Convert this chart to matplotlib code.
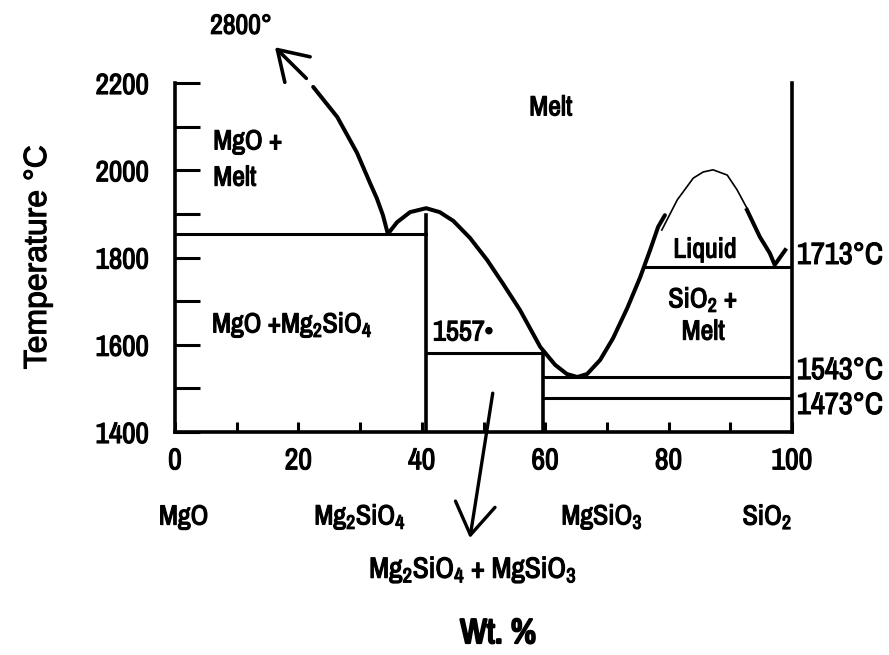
import matplotlib
matplotlib.use('Agg')
import matplotlib.pyplot as plt
from matplotlib import font_manager as fm
from matplotlib import patheffects as pe


def first_available(names, fallback):
    for n in names:
        try:
            fm.findfont(fm.FontProperties(family=n), fallback_to_default=False)
            return n
        except Exception:
            pass
    return fallback


NARROW = first_available(['Liberation Sans Narrow', 'Archivo Narrow', 'Pragati Narrow',
                          'Roboto Condensed'], 'Liberation Sans')
SANS = first_available(['Liberation Sans'], 'DejaVu Sans')

plt.rcParams['font.family'] = [NARROW, 'DejaVu Sans']
plt.rcParams['mathtext.fontset'] = 'custom'
plt.rcParams['mathtext.rm'] = NARROW
plt.rcParams['mathtext.it'] = NARROW
plt.rcParams['mathtext.bf'] = NARROW

HEAVY = [pe.withStroke(linewidth=0.85, foreground='black')]

# ---------------- data (wt.% SiO2, temperature as drawn) ----------------
x_major = [0, 20, 40, 60, 80, 100]
x_minor = [10, 30, 50, 70, 90]
y_major = [1400, 1600, 1800, 2000, 2200]
y_minor = [1500, 1700, 1900, 2100]

# MgO liquidus (towards 2800 deg)
liq_left_x = [22.4, 26.3, 29.5, 31.6, 32.7, 33.7, 34.5]
liq_left_t = [2191, 2122, 2040, 1971, 1936, 1897, 1854]

# forsterite hump -> eutectic -> silica side
main_x = [34.5, 36.0, 38.1, 40.7, 42.9, 45.1, 47.8, 50.6, 53.2, 55.9, 59.2,
          61.6, 63.5, 65.2, 66.8, 68.9, 71.0, 73.3, 75.4, 77.0, 78.3, 79.4]
main_t = [1854, 1881, 1904, 1913, 1904, 1884, 1845, 1794, 1739, 1680, 1595,
          1554, 1533, 1526, 1533, 1565, 1615, 1684, 1755, 1817, 1870, 1897]

# thin hand-drawn liquid immiscibility dome
thin_x = [78.9, 81.4, 84.0, 85.6, 87.2, 89.5, 91.1, 92.7, 94.8, 96.9, 97.2]
thin_t = [1863, 1932, 1982, 1996, 2001, 1989, 1955, 1913, 1847, 1794, 1785]

# thick right limb near SiO2
right_x = [92.7, 94.8, 96.4, 97.2, 98.9]
right_t = [1909, 1847, 1810, 1783, 1817]

# isotherms
iso_t = [1854, 1581, 1526, 1478, 1778]
iso_x0 = [0, 40.7, 59.6, 59.6, 76.3]
iso_x1 = [40.7, 59.6, 100, 100, 100]

# vertical compound lines
vert_x = [40.7, 59.6]
vert_top = [1897, 1581]

iso_labels = ['1713°C', '1543°C', '1473°C']
iso_label_t = [1806, 1542, 1462]

compounds = ['MgO', r'Mg$_2$SiO$_4$', r'MgSiO$_3$', r'SiO$_2$']
compound_x = [1.4, 30.0, 69.2, 96.0]

# ---------------- figure ----------------
fig = plt.figure(figsize=(8.89, 6.55), dpi=100)
ax = fig.add_axes([175 / 889, (655 - 432) / 655, 617 / 889, 349 / 655])
ax.set_xlim(0, 100)
ax.set_ylim(1400, 2200)

ax.spines['top'].set_visible(False)
for s in ['left', 'bottom', 'right']:
    ax.spines[s].set_linewidth(2.6)

ax.set_xticks(x_major)
ax.set_xticks(x_minor, minor=True)
ax.set_yticks(y_major)
ax.set_yticks(y_minor, minor=True)
ax.xaxis.set_ticks_position('bottom')
ax.yaxis.set_ticks_position('left')
ax.tick_params(axis='x', which='both', direction='in', length=7, width=2.2,
               pad=11, labelsize=21.5)
ax.tick_params(axis='y', which='both', direction='in', length=18, width=2.2,
               pad=19, labelsize=21)
for lab in ax.get_xticklabels() + ax.get_yticklabels():
    lab.set_path_effects(HEAVY)

lw_thick = 2.9
ax.plot(liq_left_x, liq_left_t, color='black', lw=lw_thick, clip_on=False,
        solid_capstyle='round', solid_joinstyle='round')
ax.plot(main_x, main_t, color='black', lw=lw_thick, clip_on=False,
        solid_capstyle='round', solid_joinstyle='round')
ax.plot(thin_x, thin_t, color='black', lw=1.2, clip_on=False)
ax.plot(right_x, right_t, color='black', lw=lw_thick, clip_on=False,
        solid_joinstyle='round')

for t, a, b in zip(iso_t, iso_x0, iso_x1):
    ax.plot([a, b], [t, t], color='black', lw=2.2)
for x, top in zip(vert_x, vert_top):
    ax.plot([x, x], [1400, top], color='black', lw=2.6)

# arrow to 2800 deg
a1 = ax.annotate('', xy=(16.2, 2282), xytext=(22.4, 2195),
                 arrowprops=dict(arrowstyle='->,head_length=0.6,head_width=0.38',
                                 lw=2.6, color='black', shrinkA=7, shrinkB=0,
                                 mutation_scale=34),
                 annotation_clip=False)
a1.arrow_patch.set_clip_on(False)
# arrow to Mg2SiO4 + MgSiO3
a2 = ax.annotate('', xy=(47.8, 1157), xytext=(51.5, 1489),
                 arrowprops=dict(arrowstyle='->,head_length=0.7,head_width=0.45',
                                 lw=2.4, color='black', shrinkA=0, shrinkB=0,
                                 mutation_scale=32),
                 annotation_clip=False)
a2.arrow_patch.set_clip_on(False)


# ---------------- texts ----------------
def t(x, y, s, ha='left', size=20, **kw):
    ax.text(x, y, s, ha=ha, va='center', fontsize=size, clip_on=False,
            path_effects=HEAVY, **kw)


t(5.7, 2330, '2800°', size=20)
t(60.9, 2143, 'Melt', ha='center')
t(6.2, 2065, 'MgO +')
t(6.2, 1982, 'Melt')
t(6.0, 1645, r'MgO +Mg$_2$SiO$_4$')
t(41.8, 1627, '1557•', size=20.5)
t(85.9, 1817, 'Liquid', ha='center')
t(85.6, 1703, r'SiO$_2$ +', ha='center')
t(85.6, 1629, 'Melt', ha='center')

for s, tt in zip(iso_labels, iso_label_t):
    t(100.8, tt, s, size=22)

for s, x in zip(compounds, compound_x):
    t(x, 1205, s, ha='center', size=20)

t(48.3, 1085, r'Mg$_2$SiO$_4$ + MgSiO$_3$', ha='center', size=21)

fig.text(38 / 889, 1 - 257 / 655, 'Temperature °C', rotation=90,
         ha='center', va='center', fontsize=23, family=SANS,
         path_effects=[pe.withStroke(linewidth=0.8, foreground='black')])
fig.text(498 / 889, 1 - 633 / 655, 'Wt. %', ha='center', va='center',
         fontsize=25, path_effects=[pe.withStroke(linewidth=1.6, foreground='black')])

fig.savefig('out.png', dpi=100)
